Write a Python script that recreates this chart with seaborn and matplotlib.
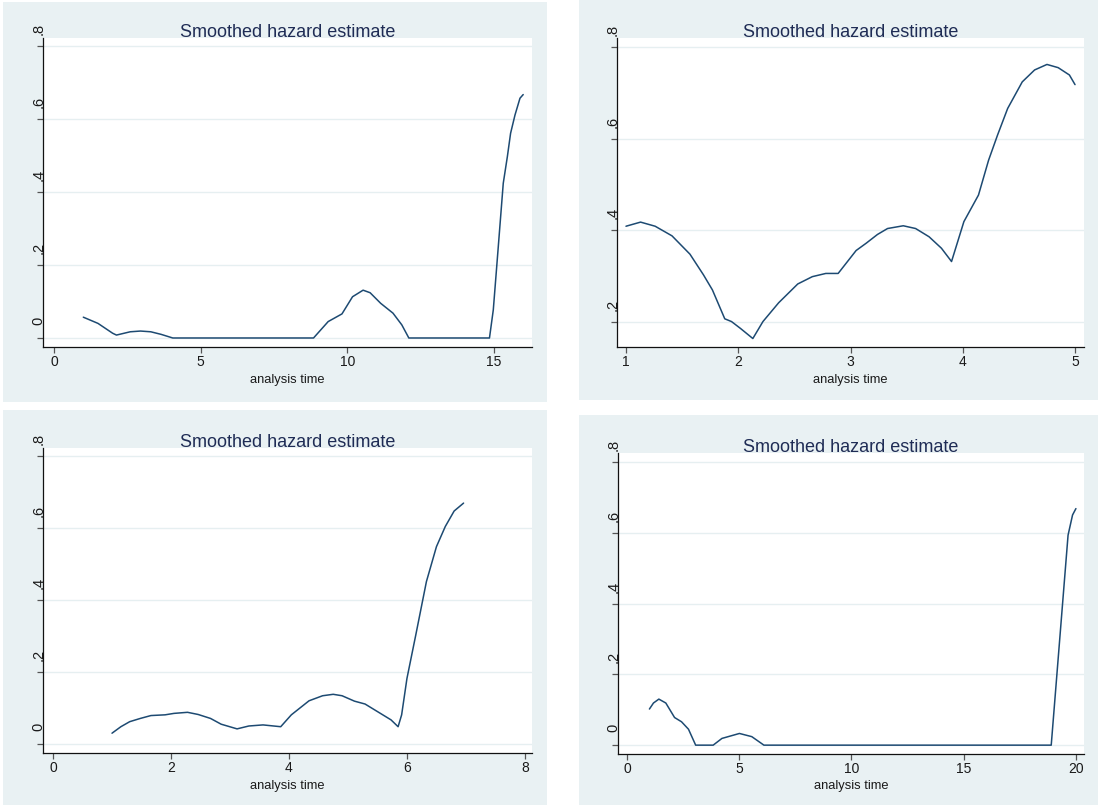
import matplotlib
matplotlib.use("Agg")
import matplotlib.pyplot as plt
from matplotlib.patches import Rectangle
from matplotlib.transforms import ScaledTranslation
import pandas as pd
import seaborn as sns

# Smoothed hazard estimates, one curve per group
time_a = [1.0, 1.5, 2.0, 2.13, 2.6, 2.95, 3.3, 3.65, 4.05, 8.85, 9.35, 9.82, 10.18,
          10.54, 10.78, 11.14, 11.56, 11.86, 12.1, 14.85, 14.98, 15.15, 15.32, 15.46,
          15.57, 15.72, 15.89, 16.0]
hazard_a = [0.057, 0.040, 0.013, 0.008, 0.017, 0.019, 0.017, 0.010, 0.0, 0.0, 0.045,
            0.066, 0.113, 0.131, 0.124, 0.095, 0.068, 0.036, 0.0, 0.0, 0.077, 0.25,
            0.424, 0.497, 0.561, 0.611, 0.657, 0.667]

time_b = [1.0, 1.13, 1.26, 1.41, 1.57, 1.69, 1.77, 1.88, 1.94, 2.02, 2.13, 2.22, 2.36,
          2.53, 2.66, 2.78, 2.89, 3.05, 3.14, 3.24, 3.33, 3.47, 3.58, 3.70, 3.81, 3.90,
          4.01, 4.14, 4.23, 4.31, 4.40, 4.53, 4.64, 4.75, 4.85, 4.95, 5.0]
hazard_b = [0.409, 0.418, 0.409, 0.388, 0.348, 0.303, 0.270, 0.207, 0.201, 0.186,
            0.164, 0.201, 0.242, 0.283, 0.299, 0.306, 0.306, 0.356, 0.372, 0.391,
            0.404, 0.410, 0.404, 0.386, 0.361, 0.332, 0.419, 0.477, 0.553, 0.608,
            0.666, 0.724, 0.750, 0.762, 0.755, 0.739, 0.718]

time_c = [1.0, 1.15, 1.30, 1.48, 1.66, 1.90, 2.05, 2.28, 2.46, 2.67, 2.85, 3.12, 3.32,
          3.56, 3.86, 4.04, 4.34, 4.57, 4.75, 4.90, 5.11, 5.29, 5.58, 5.73, 5.85, 5.91,
          6.0, 6.15, 6.33, 6.50, 6.65, 6.80, 6.96]
hazard_c = [0.030, 0.048, 0.062, 0.071, 0.079, 0.081, 0.085, 0.088, 0.082, 0.071,
            0.055, 0.042, 0.050, 0.053, 0.048, 0.081, 0.120, 0.134, 0.138, 0.134,
            0.119, 0.111, 0.082, 0.067, 0.048, 0.081, 0.182, 0.303, 0.451, 0.548,
            0.604, 0.647, 0.669]

time_d = [1.0, 1.18, 1.42, 1.73, 2.12, 2.43, 2.74, 3.06, 3.84, 4.23, 5.01, 5.56, 6.10,
          18.9, 19.65, 19.85, 20.0]
hazard_d = [0.102, 0.119, 0.130, 0.119, 0.078, 0.066, 0.045, 0.0, 0.0, 0.019, 0.033,
            0.024, 0.0, 0.0, 0.593, 0.650, 0.668]

xticks_a = [0, 5, 10, 15]
xticks_b = [1, 2, 3, 4, 5]
xticks_c = [0, 2, 4, 6, 8]
xticks_d = [0, 5, 10, 15, 20]
yticks_full = [0.0, 0.2, 0.4, 0.6, 0.8]
yticks_b = [0.2, 0.4, 0.6, 0.8]

TITLE = "Smoothed hazard estimate"
XLABEL = "analysis time"

sns.set_theme(style="white")
plt.rcParams["font.family"] = ["Liberation Sans", "DejaVu Sans"]

W, H = 1098, 808
fig = plt.figure(figsize=(W / 100, H / 100), dpi=100)
fig.patch.set_facecolor("white")

BG = "#e9f1f3"
LINE = "#1d4a72"
GRID = "#e6eff1"


def box(x0, y0, x1, y1):
    return [x0 / W, 1 - y1 / H, (x1 - x0) / W, (y1 - y0) / H]


def ylab(v):
    return "0" if v == 0 else f"{v:.1f}".lstrip("0")


panels = [
    dict(t=time_a, h=hazard_a, bg=(3, 2, 547, 402), ax=(43, 38, 532, 347),
         xlim=(-0.375, 16.30), ylim=(-0.0247, 0.822), xt=xticks_a, yt=yticks_full),
    dict(t=time_b, h=hazard_b, bg=(579, 0, 1098, 400), ax=(617, 38, 1084, 347),
         xlim=(0.92, 5.08), ylim=(0.1455, 0.8197), xt=xticks_b, yt=yticks_b),
    dict(t=time_c, h=hazard_c, bg=(3, 410, 547, 805), ax=(43, 448, 532, 753),
         xlim=(-0.17, 8.12), ylim=(-0.025, 0.822), xt=xticks_c, yt=yticks_full),
    dict(t=time_d, h=hazard_d, bg=(579, 415, 1098, 805), ax=(618, 453, 1084, 754),
         xlim=(-0.4, 20.36), ylim=(-0.025, 0.825), xt=xticks_d, yt=yticks_full),
]

for p in panels:
    b = box(*p["bg"])
    fig.patches.append(Rectangle((b[0], b[1]), b[2], b[3], transform=fig.transFigure,
                                 facecolor=BG, edgecolor="none", zorder=-10))
    ax = fig.add_axes(box(*p["ax"]))
    ax.set_zorder(1)
    ax.set_facecolor("white")
    df = pd.DataFrame({"time": p["t"], "hazard": p["h"]})
    sns.lineplot(data=df, x="time", y="hazard", ax=ax, color=LINE, lw=1.1,
                 estimator=None, sort=False)
    ax.set_xlim(*p["xlim"])
    ax.set_ylim(*p["ylim"])
    ax.set_xticks(p["xt"])
    ax.set_xticklabels([str(v) for v in p["xt"]], fontsize=10, color="#1a1a1a")
    ax.set_yticks(p["yt"])
    ax.set_yticklabels([])
    # vertical y labels sit just above their tick marks, hugging the axis line
    lab_tr = ax.get_yaxis_transform() + ScaledTranslation(-0.045, 0.17, fig.dpi_scale_trans)
    for v in p["yt"]:
        ax.text(0, v, ylab(v), transform=lab_tr, rotation=90, ha="center",
                va="center", fontsize=10.5, color="#1a1a1a", clip_on=False)
        ax.axhline(v, color=GRID, lw=1.0, zorder=0)
    for s in ("top", "right"):
        ax.spines[s].set_visible(False)
    for s in ("left", "bottom"):
        ax.spines[s].set_color("#111111")
        ax.spines[s].set_linewidth(0.9)
    ax.tick_params(axis="x", bottom=True, direction="out", length=4, width=0.9,
                   color="#555555", pad=2)
    ax.tick_params(axis="y", left=True, direction="out", length=4.5, width=0.9,
                   color="#555555", pad=0)
    ax.set_title(TITLE, fontsize=13, color="#1f2c55", pad=1)
    ax.set_xlabel(XLABEL, fontsize=9.3, color="#1a1a1a", labelpad=3)
    ax.set_ylabel("")

fig.savefig("out.png", dpi=100, facecolor="white")
